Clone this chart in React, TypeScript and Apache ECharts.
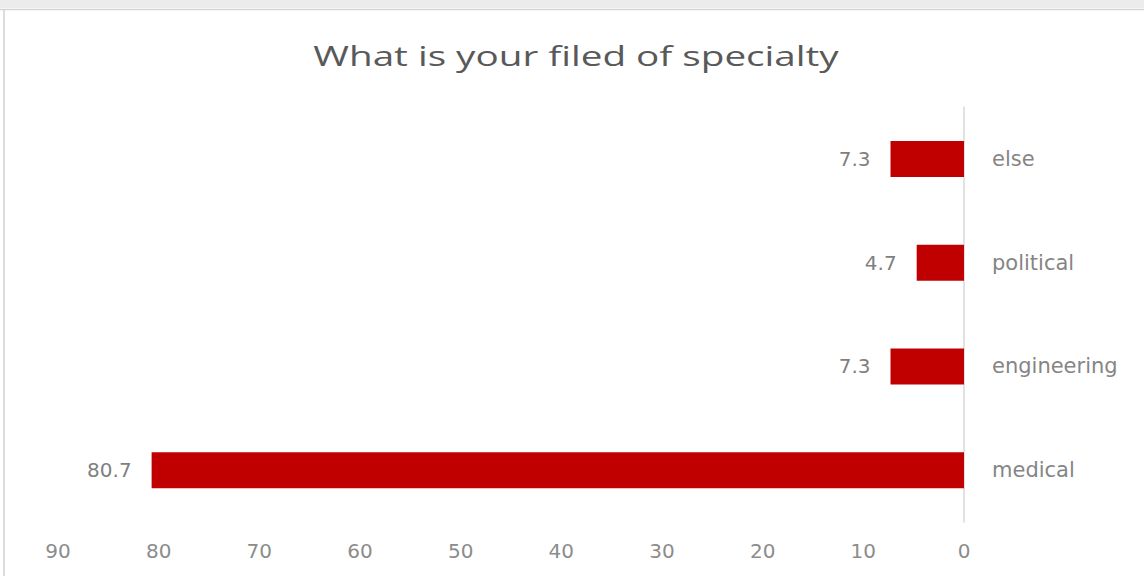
import React, { useEffect, useRef } from "react";
import * as echarts from "echarts";

// Survey answers, bottom-to-top order on the category axis
const categories = ["medical", "engineering", "political", "else"];
const percentages = [80.7, 7.3, 4.7, 7.3];
const axisTicks = { min: 0, max: 90, interval: 10 };
const chartTitle = "What is your filed of specialty";

const TITLE_FONT = "'Open Sans', 'Noto Sans', sans-serif";
const LABEL_FONT = "'DejaVu Sans', 'Open Sans', sans-serif";

export default function App() {
  const ref = useRef<HTMLDivElement>(null);

  useEffect(() => {
    if (!ref.current) return;
    const chart = echarts.init(ref.current, undefined, { renderer: "svg" });
    chart.setOption({
      animation: false,
      backgroundColor: "#ffffff",
      textStyle: { fontFamily: LABEL_FONT },
      graphic: [
        { type: "rect", shape: { x: 0, y: 0, width: 1144, height: 8 }, style: { fill: "#ececec" } },
        { type: "line", shape: { x1: 0, y1: 9.5, x2: 1144, y2: 9.5 }, style: { stroke: "#d4d4d4", lineWidth: 1.5 } },
        { type: "line", shape: { x1: 4, y1: 10, x2: 4, y2: 576 }, style: { stroke: "#dcdcdc", lineWidth: 2 } },
        // chart title, drawn wide
        {
          type: "text",
          x: 576,
          y: 55,
          scaleX: 1.38,
          style: {
            text: chartTitle,
            fontSize: 28,
            fontFamily: TITLE_FONT,
            fill: "#595959",
            align: "center",
            verticalAlign: "middle",
          },
        },
      ],
      grid: { left: 58, right: 180, top: 107, bottom: 54 },
      xAxis: {
        type: "value",
        inverse: true,
        min: axisTicks.min,
        max: axisTicks.max,
        interval: axisTicks.interval,
        axisLine: { show: false },
        axisTick: { show: false },
        splitLine: { show: false },
        axisLabel: { color: "#8c8c8c", fontSize: 20, margin: 19, fontFamily: LABEL_FONT },
      },
      yAxis: {
        type: "category",
        position: "right",
        data: categories,
        axisLine: { show: true, lineStyle: { color: "#d9d9d9", width: 1.5 } },
        axisTick: { show: false },
        axisLabel: { color: "#858585", fontSize: 21, margin: 28, fontFamily: LABEL_FONT },
      },
      series: [
        {
          type: "bar",
          data: percentages,
          barWidth: 36,
          itemStyle: { color: "#c00000" },
          label: {
            show: true,
            position: "left",
            distance: 20,
            color: "#7f7f7f",
            fontSize: 20,
            fontFamily: LABEL_FONT,
            formatter: (p: any) => p.value.toFixed(1),
          },
        },
      ],
    });
    return () => chart.dispose();
  }, []);

  return (
    <div
      ref={ref}
      style={{ position: "absolute", left: 0, top: 0, width: 1144, height: 576 }}
    />
  );
}
